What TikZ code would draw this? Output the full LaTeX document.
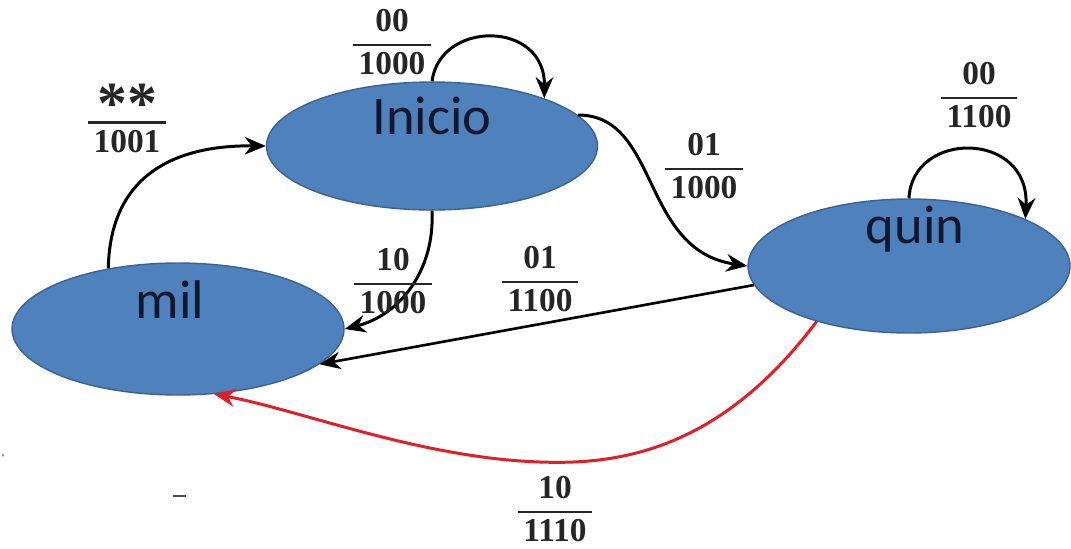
\documentclass[tikz,border=0pt]{standalone}
\usepackage{amsmath}
\usepackage{fontspec}
\setmainfont{Liberation Serif}
\newfontfamily\statefont{Carlito}
\usetikzlibrary{shapes.geometric,arrows.meta}
\definecolor{stateblue}{RGB}{79,129,189}
\definecolor{stateedge}{RGB}{58,98,148}
\definecolor{statetext}{RGB}{16,24,48}
\definecolor{redline}{RGB}{226,30,38}
\newcommand{\io}[2]{$\genfrac{}{}{1.2pt}{0}{\text{\,#1\,}}{\text{\,#2\,}}$}
\tikzset{
  stnode/.style={ellipse, fill=stateblue, draw=stateedge, line width=0.8pt, inner sep=0pt},
  stname/.style={font=\statefont\fontsize{31}{34}\selectfont, text=statetext, inner sep=0pt},
  tr/.style={line width=1.7pt, -{Stealth[length=12pt,width=10pt]}},
  lbl/.style={font=\bfseries\fontsize{19}{22}\selectfont, inner sep=0pt, text=black!85}
}
\begin{document}
\begin{tikzpicture}[x=0.02cm,y=-0.02cm]
\useasboundingbox (0,0) rectangle (1071,548);

% states
\node[stnode, minimum width=6.62cm, minimum height=2.56cm] (ini) at (432,146) {};
\node[stnode, minimum width=6.64cm, minimum height=2.64cm] (mil) at (178,329) {};
\node[stnode, minimum width=6.44cm, minimum height=2.68cm] (quin) at (909,266) {};

\node[stname] (tini) at (432,116) {Inicio};
\node[stname] (tmil) at (170,300) {mil};
\node[stname] (tquin) at (915,229) {quin};

% transitions
\draw[tr] (ini.north) .. controls (440,20) and (545,20) .. (ini.23);
\draw[tr] (mil.139) .. controls (110,175) and (175,145) .. (ini.west);
\draw[tr] (ini.12) .. controls (660,115) and (640,250) .. (quin.west);
\draw[tr] (ini.south) .. controls (435,270) and (400,315) .. (mil.east);
\draw[tr, line width=1.5pt] (quin.187) -- (mil.346);
\draw[tr] (quin.north) .. controls (912,130) and (1030,130) .. (quin.22);
\draw[tr, draw=redline] (quin.211) .. controls (720,450) and (620,465) .. (540,462)
   .. controls (420,458) and (300,410) .. (mil.299);

% input / output labels
\node[lbl] (l1) at (392,42) {\io{00}{1000}};
\node[lbl] (l2) at (127,121) {\io{\raisebox{-0.9ex}[1.3ex][0pt]{\fontsize{34}{34}\selectfont **}}{1001}};
\node[lbl] (l3) at (704,166) {\io{01}{1000}};
\node[lbl] (l4) at (979,95) {\io{00}{1100}};
\node[lbl] (l5) at (393,281) {\io{10}{1000}};
\node[lbl] (l6) at (540,279) {\io{01}{1100}};
\node[lbl] (l7) at (555,509) {\io{10}{1110}};

% stray marks
\draw[line width=1.5pt, black!70] (173,496) -- (186,496);
\fill[black!40] (3,455) circle (1.5);
\end{tikzpicture}
\end{document}
